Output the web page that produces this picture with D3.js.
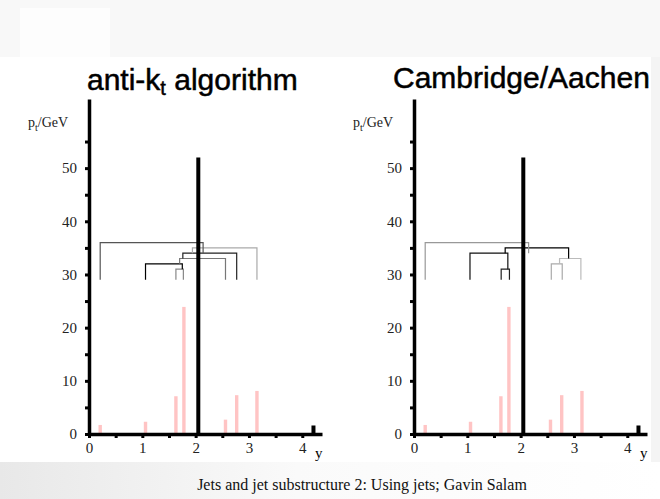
<!DOCTYPE html>
<html>
<head>
<meta charset="utf-8">
<script src="https://cdn.jsdelivr.net/npm/d3@7"></script>
<style>
  body { margin: 0; background: #fff; }
  svg { display: block; }
  .tick text { font-family: "Liberation Serif", serif; font-size: 15px; fill: #222; }
</style>
</head>
<body>
<script>
// two event displays: anti-kt and Cambridge/Aachen clustering

// particles (rapidity y, pt in GeV)
var softY = [0.21, 1.06, 1.63, 1.78, 2.56, 2.77, 3.15];
var softPt = [1.7, 2.3, 7.1, 23.9, 2.7, 7.3, 8.1];
var hardY = [2.05, 4.21];
var hardPt = [52, 1.6];

var xTicks = [0, 0.5, 1, 1.5, 2, 2.5, 3, 3.5, 4];
var yTicks = [0, 5, 10, 15, 20, 25, 30, 35, 40, 45, 50, 55];

// merging steps: leg a (y, from pt), leg b (y, from pt), merge height, colour
var antiKtMerges = [
  { a: 1.63, aFrom: 29, b: 1.77, bFrom: 29, h: 31, c: "#888" },
  { a: 1.06, aFrom: 29, b: 1.75, bFrom: 31, h: 32, c: "#000" },
  { a: 1.70, aFrom: 32, b: 2.56, bFrom: 29, h: 33, c: "#777" },
  { a: 1.76, aFrom: 33, b: 2.77, bFrom: 29, h: 34, c: "#222" },
  { a: 1.94, aFrom: 34, b: 3.15, bFrom: 29, h: 35, c: "#aaa" },
  { a: 0.21, aFrom: 29, b: 2.14, bFrom: 34, h: 36, c: "#555" }
];
var camMerges = [
  { a: 1.635, aFrom: 29, b: 1.79, bFrom: 29, h: 31, c: "#222" },
  { a: 2.575, aFrom: 29, b: 2.78, bFrom: 29, h: 32, c: "#aaa" },
  { a: 2.73, aFrom: 32, b: 3.13, bFrom: 29, h: 33, c: "#bbb" },
  { a: 1.05, aFrom: 29, b: 1.76, bFrom: 31, h: 34, c: "#111" },
  { a: 1.71, aFrom: 34, b: 2.90, bFrom: 33, h: 35, c: "#000" },
  { a: 0.21, aFrom: 29, b: 2.15, bFrom: 34, h: 36, c: "#999" }
];

var W = 660, H = 499;
var svg = d3.select("body").append("svg")
  .attr("width", W)
  .attr("height", H);

// slide background
var defs = svg.append("defs");
var grad = defs.append("linearGradient").attr("id", "foot")
  .attr("x1", "0").attr("x2", "1");
grad.append("stop").attr("offset", "0").attr("stop-color", "#e8e8e8");
grad.append("stop").attr("offset", "0.45").attr("stop-color", "#fafafa");
grad.append("stop").attr("offset", "1").attr("stop-color", "#ffffff");
svg.append("rect").attr("width", W).attr("height", H).attr("fill", "#fff");
svg.append("rect").attr("width", W).attr("height", 57).attr("fill", "#f8f8f8");
svg.append("rect").attr("x", 20).attr("y", 8).attr("width", 90).attr("height", 49).attr("fill", "#fdfdfd");
svg.append("rect").attr("x", 0).attr("y", 462).attr("width", W).attr("height", 37).attr("fill", "url(#foot)");
svg.append("rect").attr("x", 651).attr("y", 57).attr("width", 9).attr("height", 405).attr("fill", "#f4f4f4");

var panels = [
  { x0: 89, merges: antiKtMerges, title: ["anti-k", "t", " algorithm"], tx: 87, ty: 90 },
  { x0: 414, merges: camMerges, title: ["Cambridge/Aachen"], tx: 393, ty: 88 }
];

var y = d3.scaleLinear().domain([0, 63]).range([434, 99]);

panels.forEach(function(p) {
  var x = d3.scaleLinear().domain([0, 4.37]).range([p.x0, p.x0 + 233]);
  var g = svg.append("g");

  // title
  var t = g.append("text")
    .attr("x", p.tx).attr("y", p.ty)
    .attr("font-family", "'Liberation Sans', sans-serif")
    .attr("font-size", 30)
    .attr("fill", "#000")
    .attr("stroke", "#000")
    .attr("stroke-width", 0.5);
  t.append("tspan").text(p.title[0]);
  if (p.title.length > 1) {
    t.append("tspan").attr("font-size", 20).attr("dy", 5).text(p.title[1]);
    t.append("tspan").attr("dy", -5).text(p.title[2]);
  }

  // soft particles
  g.selectAll(".soft").data(softY).enter().append("rect")
    .attr("class", "soft")
    .attr("x", function(d) { return x(d) - 1.7; })
    .attr("width", 3.4)
    .attr("y", function(d, i) { return y(softPt[i]); })
    .attr("height", function(d, i) { return y(0) - y(softPt[i]); })
    .attr("fill", "#ffc4c4");

  // clustering tree
  g.selectAll(".merge").data(p.merges).enter().append("path")
    .attr("class", "merge")
    .attr("d", function(m) {
      return "M" + x(m.a) + "," + y(m.aFrom) + "V" + y(m.h) + "H" + x(m.b) + "V" + y(m.bFrom);
    })
    .attr("fill", "none")
    .attr("stroke", function(m) { return m.c; })
    .attr("stroke-width", 1.2);

  // hard particles
  g.selectAll(".hard").data(hardY).enter().append("rect")
    .attr("class", "hard")
    .attr("x", function(d) { return x(d) - 2; })
    .attr("width", 4)
    .attr("y", function(d, i) { return y(hardPt[i]); })
    .attr("height", function(d, i) { return y(0) - y(hardPt[i]); })
    .attr("fill", "#000");

  // axes
  var ya = g.append("g").attr("transform", "translate(" + p.x0 + ",0)")
    .call(d3.axisLeft(y).tickValues(yTicks).tickSize(4).tickSizeOuter(0).tickPadding(8)
      .tickFormat(function(d) { return d % 10 === 0 ? d : ""; }));
  var xa = g.append("g").attr("transform", "translate(0," + y(0) + ")")
    .call(d3.axisBottom(x).tickValues(xTicks).tickSize(4).tickSizeOuter(0).tickPadding(4)
      .tickFormat(function(d) { return d % 1 === 0 ? d : ""; }));
  [ya, xa].forEach(function(a) {
    a.select(".domain").attr("stroke", "#000").attr("stroke-width", 3.5);
    a.selectAll(".tick line").attr("stroke", "#000").attr("stroke-width", 3);
  });

  // axis names
  g.append("text")
    .attr("x", x(4.35) - 6).attr("y", y(0) + 24)
    .attr("font-family", "'Liberation Serif', serif")
    .attr("font-size", 15)
    .text("y");
  var lab = g.append("text")
    .attr("x", p.x0 - 61).attr("y", 127)
    .attr("font-family", "'Liberation Serif', serif")
    .attr("font-size", 14)
    .attr("fill", "#222");
  lab.append("tspan").text("p");
  lab.append("tspan").attr("font-size", 10).attr("dy", 4).text("t");
  lab.append("tspan").attr("dy", -4).text("/GeV");
});

// footer
svg.append("text")
  .attr("x", 362).attr("y", 490)
  .attr("text-anchor", "middle")
  .attr("font-family", "'Liberation Serif', serif")
  .attr("font-size", 16)
  .attr("fill", "#111")
  .text("Jets and jet substructure 2: Using jets; Gavin Salam");
</script>
</body>
</html>
